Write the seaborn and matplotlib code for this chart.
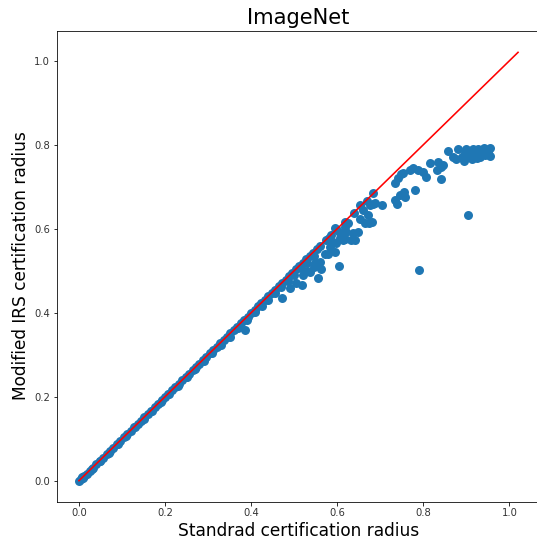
import matplotlib
matplotlib.use("Agg")
import matplotlib.pyplot as plt
import seaborn as sns
import pandas as pd

# ---- data ----
# points lying on the identity line
diag_x = [0.000, 0.004, 0.008, 0.012, 0.018, 0.025, 0.032, 0.040, 0.048, 0.056,
          0.064, 0.072, 0.080, 0.088, 0.096, 0.104, 0.112, 0.120, 0.128, 0.136,
          0.144, 0.152, 0.160, 0.168, 0.176, 0.184, 0.192, 0.200, 0.208, 0.216,
          0.224, 0.232, 0.240, 0.248, 0.256, 0.264, 0.272, 0.280, 0.288, 0.296,
          0.304, 0.312, 0.320, 0.328, 0.336, 0.344, 0.352, 0.360, 0.368, 0.376,
          0.384, 0.392, 0.400, 0.408, 0.416, 0.424, 0.432, 0.440, 0.448, 0.456,
          0.464, 0.472, 0.480, 0.488, 0.496, 0.504, 0.512, 0.520, 0.528, 0.536,
          0.544, 0.552, 0.560, 0.575, 0.585, 0.600, 0.618, 0.640, 0.652, 0.668,
          0.683]
diag_y = [0.000, 0.004, 0.008, 0.012, 0.017, 0.024, 0.031, 0.039, 0.047, 0.055,
          0.063, 0.071, 0.079, 0.087, 0.095, 0.103, 0.111, 0.119, 0.127, 0.135,
          0.143, 0.151, 0.159, 0.167, 0.175, 0.183, 0.191, 0.199, 0.207, 0.215,
          0.223, 0.231, 0.239, 0.247, 0.255, 0.263, 0.271, 0.279, 0.287, 0.295,
          0.303, 0.311, 0.319, 0.327, 0.335, 0.343, 0.351, 0.359, 0.367, 0.375,
          0.383, 0.391, 0.399, 0.407, 0.415, 0.423, 0.431, 0.439, 0.447, 0.455,
          0.463, 0.471, 0.479, 0.487, 0.495, 0.503, 0.511, 0.519, 0.527, 0.535,
          0.543, 0.551, 0.559, 0.574, 0.584, 0.598, 0.616, 0.637, 0.656, 0.665,
          0.686]

# a second layer just below the line that thickens the band slightly
band_x = [0.010, 0.030, 0.050, 0.070, 0.090, 0.110, 0.130, 0.150, 0.170, 0.190,
          0.210, 0.230, 0.250, 0.270, 0.290, 0.310, 0.330, 0.350, 0.370, 0.390,
          0.410, 0.425, 0.440, 0.455, 0.470, 0.485, 0.500, 0.515, 0.530, 0.545]
band_y = [0.007, 0.027, 0.047, 0.067, 0.087, 0.107, 0.127, 0.147, 0.167, 0.187,
          0.206, 0.226, 0.246, 0.266, 0.285, 0.304, 0.324, 0.343, 0.363, 0.382,
          0.401, 0.416, 0.431, 0.446, 0.461, 0.476, 0.490, 0.506, 0.519, 0.535]

# points clearly below the identity line
off_x = [0.385, 0.472, 0.490, 0.505, 0.517, 0.520, 0.530, 0.536, 0.545, 0.548,
         0.555, 0.560, 0.563, 0.571, 0.579, 0.581, 0.583, 0.590, 0.594, 0.594,
         0.598, 0.605, 0.606, 0.606, 0.614, 0.617, 0.617, 0.621, 0.625, 0.633,
         0.637, 0.641, 0.648, 0.652, 0.659, 0.664, 0.672, 0.674, 0.676, 0.680,
         0.683, 0.687, 0.703, 0.734, 0.734, 0.738, 0.741, 0.745, 0.749, 0.753,
         0.755, 0.757, 0.769, 0.776, 0.780, 0.788, 0.789, 0.800, 0.807, 0.815,
         0.831, 0.834, 0.842, 0.842, 0.846, 0.858, 0.869, 0.876, 0.881, 0.889,
         0.895, 0.897, 0.900, 0.904, 0.905, 0.910, 0.912, 0.916, 0.920, 0.924,
         0.928, 0.931, 0.935, 0.940, 0.943, 0.947, 0.951, 0.951, 0.955, 0.955]
off_y = [0.360, 0.434, 0.458, 0.470, 0.466, 0.490, 0.500, 0.498, 0.510, 0.518,
         0.482, 0.520, 0.505, 0.541, 0.541, 0.577, 0.557, 0.569, 0.545, 0.601,
         0.565, 0.512, 0.577, 0.589, 0.573, 0.575, 0.605, 0.593, 0.613, 0.573,
         0.589, 0.573, 0.593, 0.622, 0.645, 0.613, 0.633, 0.613, 0.656, 0.617,
         0.660, 0.662, 0.656, 0.668, 0.708, 0.660, 0.720, 0.680, 0.730, 0.732,
         0.688, 0.676, 0.740, 0.744, 0.692, 0.740, 0.501, 0.736, 0.724, 0.756,
         0.740, 0.760, 0.748, 0.718, 0.752, 0.786, 0.771, 0.765, 0.791, 0.771,
         0.762, 0.780, 0.790, 0.633, 0.770, 0.785, 0.765, 0.791, 0.775, 0.768,
         0.790, 0.771, 0.782, 0.793, 0.775, 0.785, 0.787, 0.780, 0.792, 0.772]

line_ends = [0.0, 1.02]

title = "ImageNet"
xlabel = "Standrad certification radius"
ylabel = "Modified IRS certification radius"

df = pd.DataFrame({
    "std": diag_x + band_x + off_x,
    "irs": diag_y + band_y + off_y,
})

W, H, DPI = 537, 542, 72
fig = plt.figure(figsize=(W / DPI, H / DPI), dpi=DPI)
fig.patch.set_facecolor("white")
ax = fig.add_axes([57 / W, 1 - 501.5 / H, (540 - 57) / W, (501.5 - 30.5) / H])

sns.scatterplot(data=df, x="std", y="irs", ax=ax, color="#1f77b4",
                s=81, linewidth=0, alpha=1.0, legend=False)
ax.plot(line_ends, line_ends, color="red", linewidth=1.6)

ax.set_xlim(-0.051, 1.071)
ax.set_ylim(-0.0495, 1.072)
ax.set_xticks([0.0, 0.2, 0.4, 0.6, 0.8, 1.0])
ax.set_yticks([0.0, 0.2, 0.4, 0.6, 0.8, 1.0])
ax.tick_params(labelsize=10, labelcolor="#333333")

ax.set_title(title, fontsize=21)
ax.set_xlabel(xlabel, fontsize=17)
ax.set_ylabel(ylabel, fontsize=17)

fig.savefig("out.png", dpi=DPI)
